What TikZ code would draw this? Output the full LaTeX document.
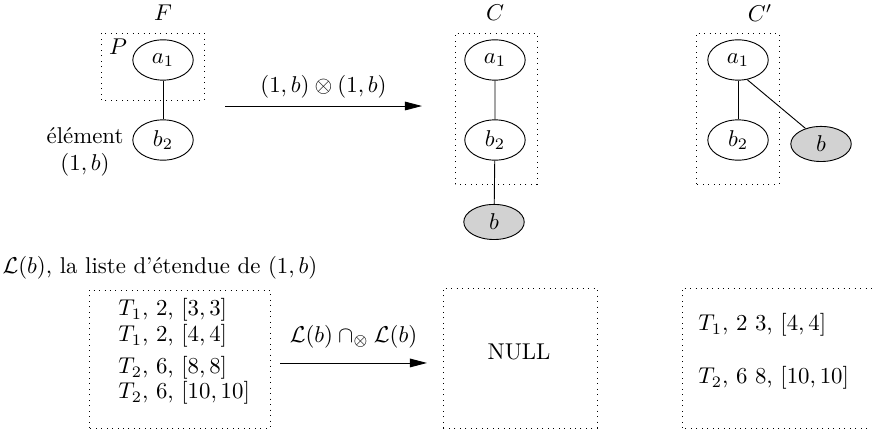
\documentclass[tikz,border=0pt]{standalone}
\usepackage{amsmath}
\usepackage{amssymb}
\usetikzlibrary{shapes.geometric,arrows.meta}

\tikzset{
  elem/.style={ellipse, draw, minimum width=0.93cm, minimum height=0.62cm, inner sep=1pt},
  newelem/.style={elem, fill=gray!35, minimum height=0.54cm},
  zone/.style={draw, dotted},
}

\begin{document}
\begin{tikzpicture}[>={Triangle[length=7.5pt,width=3.8pt]}]

\useasboundingbox (0,0) rectangle (13.415,6.646);

% Graph F
\node (F) at (2.508,6.446) {$F$};
\draw[zone] (1.554,5.108) rectangle (3.138,6.138);
\node (P) at (1.815,5.923) {$P$};
\node[elem] (Fa) at (2.508,5.723) {$a_1$};
\node[elem] (Fb) at (2.508,4.492) {$b_2$};
\draw (Fa) -- (Fb);
\node[align=center] (elt) at (1.308,4.308) {élément\\$(1,b)$};

% Extension arrow
\coordinate (s1) at (3.462,5.015);
\coordinate (e1) at (6.492,5.015);
\draw[->] (s1) -- node[above] (op1) {$(1,b)\otimes(1,b)$} (e1);

% Graph C
\node (C) at (7.615,6.446) {$C$};
\draw[zone] (7.0,3.815) rectangle (8.262,6.138);
\node[elem] (Ca) at (7.615,5.723) {$a_1$};
\node[elem] (Cb) at (7.615,4.492) {$b_2$};
\node[newelem] (Cn) at (7.6,3.231) {$b$};
\draw (Ca) -- (Cb) -- (Cn);

% Graph C'
\node (Cp) at (11.692,6.446) {$C'$};
\draw[zone] (10.708,3.815) rectangle (11.985,6.138);
\node[elem] (Cpa) at (11.354,5.723) {$a_1$};
\node[elem] (Cpb) at (11.354,4.492) {$b_2$};
\node[newelem] (Cpn) at (12.631,4.431) {$b$};
\draw (Cpa) -- (Cpb);
\draw (Cpa.-65) -- (Cpn.135);

% Extent lists
\node[right] (title) at (-0.085,2.523) {$\mathcal{L}(b)$, la liste d'étendue de $(1,b)$};
\draw[zone] (1.369,0.062) rectangle (4.154,2.185);
\node[right] (l1) at (1.698,1.877) {$T_1$, 2, $[3,3]$};
\node[right] (l2) at (1.698,1.477) {$T_1$, 2, $[4,4]$};
\node[right] (l3) at (1.698,0.985) {$T_2$, 6, $[8,8]$};
\node[right] (l4) at (1.698,0.600) {$T_2$, 6, $[10,10]$};

\coordinate (s2) at (4.308,1.062);
\coordinate (e2) at (6.569,1.062);
\draw[->] (s2) -- node[above=3pt] (op2) {$\mathcal{L}(b)\cap_{\otimes}\mathcal{L}(b)$} (e2);

\draw[zone] (6.815,0.062) rectangle (9.185,2.215);
\node (null) at (7.985,1.231) {NULL};

\draw[zone] (10.492,0.062) rectangle (13.6,2.215);
\node[right] (r1) at (10.621,1.646) {$T_1$, 2 3, $[4,4]$};
\node[right] (r2) at (10.621,0.831) {$T_2$, 6 8, $[10,10]$};

\end{tikzpicture}
\end{document}
